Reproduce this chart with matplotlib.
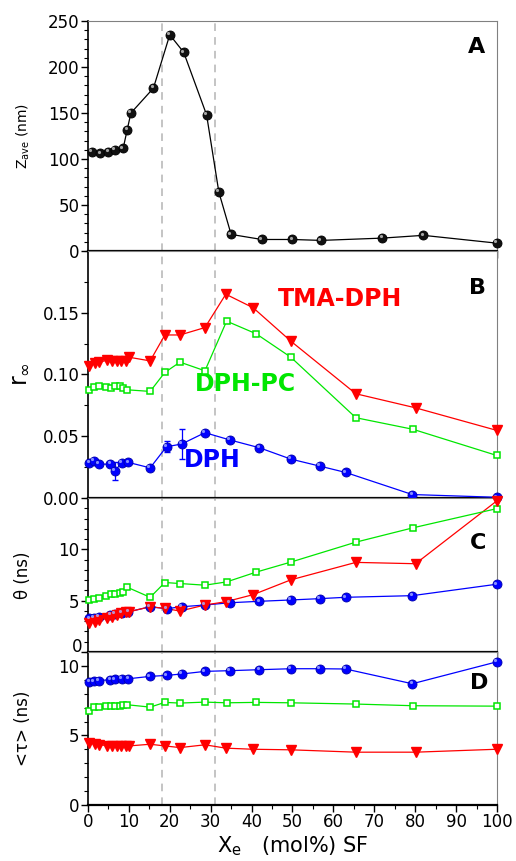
import matplotlib
matplotlib.use('Agg')
import matplotlib.pyplot as plt
from matplotlib.ticker import MultipleLocator
from matplotlib.transforms import ScaledTranslation

plt.rcParams['font.family'] = ['DejaVu Sans']

# panel A: particle size
xa = [0.9, 3, 5, 6.6, 8.6, 9.6, 10.5, 16, 20, 23.4, 29, 32, 35, 42.5, 50, 57, 72, 82, 100]
za = [108, 106, 107.5, 110, 111.5, 132, 150, 177, 235, 216, 148, 64, 18, 12.5, 12.5, 11.5, 14, 17, 8.5]

# x positions of the three probes
x_tma = [0.3, 1.7, 2.8, 4.6, 5.8, 7.1, 8.1, 9.2, 10.0, 15.2, 18.8, 22.5, 28.6, 33.7, 40.4, 49.6, 65.5, 80.1, 99.9]
x_pc = [0.3, 1.5, 2.8, 4.4, 5.6, 6.6, 7.8, 8.6, 9.6, 15.2, 18.8, 22.5, 28.6, 33.9, 41.1, 49.6, 65.5, 79.5, 99.9]
x_dph = [0.3, 1.5, 2.6, 5.5, 6.6, 8.2, 9.9, 15.2, 19.2, 22.9, 28.6, 34.7, 41.9, 49.6, 56.7, 63, 79.3, 99.9]

# panel B: r_inf
r_tma = [0.1066, 0.1093, 0.110, 0.1115, 0.111, 0.111, 0.111, 0.111, 0.114, 0.111, 0.132, 0.132,
         0.138, 0.165, 0.154, 0.127, 0.0844, 0.073, 0.0548]
r_pc = [0.0871, 0.0898, 0.0903, 0.0898, 0.0887, 0.0903, 0.0903, 0.0892, 0.0876, 0.0863, 0.1017,
        0.110, 0.103, 0.1432, 0.133, 0.114, 0.065, 0.0556, 0.0345]
r_dph = [0.0285, 0.0301, 0.0274, 0.0274, 0.022, 0.0285, 0.0288, 0.0244, 0.0415, 0.0437, 0.0529,
         0.047, 0.0407, 0.0315, 0.0258, 0.0207, 0.0028, 0.0006]
r_dph_err = [0, 0, 0, 0, 0.0075, 0, 0, 0, 0.0045, 0.012, 0, 0, 0, 0, 0, 0, 0, 0]

# panel C: theta (ns)
t_tma = [2.85, 2.94, 3.1, 3.27, 3.43, 3.6, 3.76, 3.86, 3.92, 4.41, 4.25, 3.99, 4.58, 4.9, 5.59,
         7.03, 8.73, 8.6, 14.7]
t_pc = [5.07, 5.2, 5.3, 5.5, 5.62, 5.66, 5.79, 5.88, 6.31, 5.33, 6.77, 6.67, 6.51, 6.83, 7.78,
        8.76, 10.7, 12.1, 13.96]
t_dph = [3.27, 3.33, 3.45, 3.6, 3.7, 3.85, 3.92, 4.41, 4.22, 4.41, 4.58, 4.8, 4.94, 5.07, 5.2,
         5.33, 5.49, 6.6]

# panel D: <tau> (ns)
tau_tma = [4.45, 4.4, 4.33, 4.28, 4.21, 4.21, 4.21, 4.21, 4.25, 4.37, 4.25, 4.13, 4.33, 4.09,
           4.01, 3.97, 3.8, 3.8, 4.01]
tau_pc = [6.73, 7.04, 7.04, 7.09, 7.11, 7.11, 7.14, 7.19, 7.21, 7.04, 7.38, 7.33, 7.4, 7.35,
          7.38, 7.35, 7.26, 7.14, 7.11]
tau_dph = [8.85, 8.9, 8.95, 9.01, 9.03, 9.06, 9.08, 9.25, 9.32, 9.42, 9.61, 9.66, 9.73, 9.8,
           9.8, 9.78, 8.72, 10.29]

RED = '#ff0000'
GREEN = '#00e600'
BLUE = '#0000ff'

fig = plt.figure(figsize=(5.16, 8.61), dpi=100)
L, W = 0.1705, 0.7926
axA = fig.add_axes([L, 0.7085, W, 0.2671])
axB = fig.add_axes([L, 0.4216, W, 0.2869])
axC = fig.add_axes([L, 0.2427, W, 0.1789])
axD = fig.add_axes([L, 0.0650, W, 0.1777])


def sphere(ax, x, y, col, hi, edge, ms=6.5):
    ax.plot(x, y, 'o', ms=ms, mfc=col, mec=edge, mew=0.6, zorder=4, clip_on=False)
    off = ax.transData + ScaledTranslation(-1.2 / 72, 1.2 / 72, fig.dpi_scale_trans)
    ax.plot(x, y, 'o', ms=ms * 0.35, mfc=hi, mec='none', alpha=0.8, zorder=5,
            transform=off, clip_on=False)


def tri(ax, x, y):
    ax.plot(x, y, '-', color=RED, lw=0.9, zorder=3)
    ax.plot(x, y, 'v', ms=7.5, mfc=RED, mec=RED, zorder=4, clip_on=False)


def sq(ax, x, y):
    ax.plot(x, y, '-s', color=GREEN, lw=0.9, ms=5, mfc='white', mec=GREEN, mew=1.1,
            zorder=4, clip_on=False)


# A
axA.plot(xa, za, '-', color='black', lw=0.9, zorder=3)
sphere(axA, xa, za, '#111111', '#cccccc', 'black')
axA.set_ylim(0, 250)
axA.yaxis.set_major_locator(MultipleLocator(50))
axA.yaxis.set_minor_locator(MultipleLocator(10))
axA.set_ylabel('Z$_{\\mathregular{ave}}$ (nm)', fontsize=10)
axA.text(95, 222, 'A', fontsize=16, fontweight='bold', ha='center', va='center')

# B
tri(axB, x_tma, r_tma)
sq(axB, x_pc, r_pc)
axB.errorbar(x_dph, r_dph, yerr=r_dph_err, fmt='none', ecolor=BLUE, elinewidth=0.9,
             capsize=2.5, zorder=3)
axB.plot(x_dph, r_dph, '-', color=BLUE, lw=0.9, zorder=3)
sphere(axB, x_dph, r_dph, BLUE, '#aab4ff', '#0000aa')
axB.set_ylim(0, 0.2)
axB.yaxis.set_minor_locator(MultipleLocator(0.025))
axB.set_yticks([0, 0.05, 0.10, 0.15])
axB.set_yticklabels(['0.00', '0.05', '0.10', '0.15'])
axB.set_ylabel('r$_{\\infty}$', fontsize=17)
axB.text(95.3, 0.17, 'B', fontsize=16, fontweight='bold', ha='center', va='center')
axB.text(61.6, 0.161, 'TMA-DPH', color=RED, fontsize=17, fontweight='bold',
         ha='center', va='center')
axB.text(38.6, 0.092, 'DPH-PC', color=GREEN, fontsize=17, fontweight='bold',
         ha='center', va='center')
axB.text(30.5, 0.031, 'DPH', color=BLUE, fontsize=17, fontweight='bold',
         ha='center', va='center')

# C
axC.plot(x_dph, t_dph, '-', color=BLUE, lw=0.9, zorder=3)
sphere(axC, x_dph, t_dph, BLUE, '#aab4ff', '#0000aa')
sq(axC, x_pc, t_pc)
tri(axC, x_tma, t_tma)
axC.set_ylim(0, 15)
axC.set_yticks([0, 5, 10])
axC.set_yticklabels(['', '5', '10'])
axC.yaxis.set_minor_locator(MultipleLocator(1))
axC.annotate('0', xy=(0, 0), xycoords=('axes fraction', 'data'), xytext=(-4, 3.5),
             textcoords='offset points', ha='right', va='center', fontsize=12)
axC.set_ylabel('\u03b8 (ns)', fontsize=12)
axC.text(95.3, 10.6, 'C', fontsize=16, fontweight='bold', ha='center', va='center')

# D
axD.plot(x_dph, tau_dph, '-', color=BLUE, lw=0.9, zorder=3)
sphere(axD, x_dph, tau_dph, BLUE, '#aab4ff', '#0000aa')
sq(axD, x_pc, tau_pc)
tri(axD, x_tma, tau_tma)
axD.set_ylim(0, 11)
axD.set_yticks([0, 5, 10])
axD.yaxis.set_minor_locator(MultipleLocator(1))
axD.set_ylabel('<\u03c4> (ns)', fontsize=12)
axD.text(95.7, 8.8, 'D', fontsize=16, fontweight='bold', ha='center', va='center')

for ax in [axA, axB, axC, axD]:
    ax.set_xlim(0, 100)
    ax.xaxis.set_major_locator(MultipleLocator(10))
    ax.xaxis.set_minor_locator(MultipleLocator(5))
    ax.tick_params(axis='both', which='major', direction='out', length=5, width=1,
                   labelsize=12, pad=1)
    ax.tick_params(axis='both', which='minor', direction='out', length=3, width=0.8)
    ax.tick_params(top=False, right=False, which='both')
    ax.spines['right'].set_color('#808080')
    ax.spines['top'].set_color('#808080')
    ax.spines['left'].set_linewidth(1.2)
    ax.spines['bottom'].set_linewidth(1.6)
    ax.yaxis.set_label_coords(-0.137, 0.5)
    for xv in (18, 31):
        ax.axvline(xv, color='#b4b4b4', ls=(0, (5, 4)), lw=1.1, zorder=1)
    if ax is not axD:
        ax.tick_params(labelbottom=False)

axB.yaxis.set_label_coords(-0.14, 0.5)
axD.set_xticks(range(0, 101, 10))
axD.set_xlabel('X$_{\\mathregular{e}}$   (mol%) SF', fontsize=15, labelpad=2)

fig.savefig('out.png', dpi=100)
